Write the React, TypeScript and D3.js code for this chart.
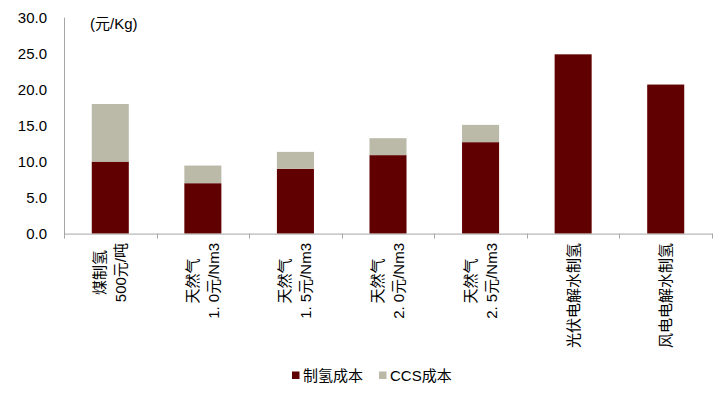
import React, { useEffect, useRef } from "react";
import * as d3 from "d3";

const categories: string[][] = [
  ["煤制氢", "500元/吨"],
  ["天然气", "1. 0元/Nm3"],
  ["天然气", "1. 5元/Nm3"],
  ["天然气", "2. 0元/Nm3"],
  ["天然气", "2. 5元/Nm3"],
  ["光伏电解水制氢"],
  ["风电电解水制氢"],
];
const h2Cost: number[] = [10.0, 7.0, 9.0, 10.9, 12.7, 24.9, 20.7];
const ccsCost: number[] = [8.0, 2.45, 2.35, 2.35, 2.4, 0, 0];
const yTicks: number[] = [0, 5, 10, 15, 20, 25, 30];
const seriesNames: string[] = ["制氢成本", "CCS成本"];
const unitLabel = "(元/Kg)";

const W = 725;
const H = 397;
const COLORS = ["#600000", "#BBBAA8"];
const FONT = "'Liberation Sans', Arial, 'Noto Sans CJK SC', sans-serif";

export default function App() {
  const ref = useRef<SVGSVGElement | null>(null);

  useEffect(() => {
    const svg = d3.select(ref.current);
    svg.selectAll("*").remove();

    const x = d3
      .scaleBand<number>()
      .domain(d3.range(categories.length))
      .range([64, 712])
      .paddingInner(0.6)
      .paddingOuter(0.3);
    const y = d3.scaleLinear().domain([0, 30]).range([233.6, 17.6]);

    const g = svg.append("g");

    const bw = x.bandwidth();
    h2Cost.forEach((v, i) => {
      g.append("rect")
        .attr("x", x(i)!)
        .attr("y", y(v))
        .attr("width", bw)
        .attr("height", y(0) - y(v))
        .attr("fill", COLORS[0]);
      if (ccsCost[i] > 0) {
        g.append("rect")
          .attr("x", x(i)!)
          .attr("y", y(v + ccsCost[i]))
          .attr("width", bw)
          .attr("height", y(v) - y(v + ccsCost[i]))
          .attr("fill", COLORS[1]);
      }
    });

    const axisColor = "#A6A6A6";
    g.append("line")
      .attr("x1", 64.5)
      .attr("x2", 64.5)
      .attr("y1", y(30))
      .attr("y2", y(0) + 4)
      .attr("stroke", axisColor);
    g.append("line")
      .attr("x1", 64)
      .attr("x2", 712.5)
      .attr("y1", y(0) + 0.5)
      .attr("y2", y(0) + 0.5)
      .attr("stroke", axisColor);
    const step = x.step();
    d3.range(categories.length + 1).forEach((k) => {
      const tx = Math.round(64 + k * step) + 0.5;
      g.append("line")
        .attr("x1", tx)
        .attr("x2", tx)
        .attr("y1", y(0))
        .attr("y2", y(0) + 5)
        .attr("stroke", axisColor);
    });

    yTicks.forEach((t) => {
      g.append("text")
        .attr("x", 47)
        .attr("y", y(t))
        .attr("dy", "0.35em")
        .attr("text-anchor", "end")
        .attr("font-family", FONT)
        .attr("font-size", 15)
        .attr("fill", "#000")
        .text(d3.format(".1f")(t));
    });

    g.append("text")
      .attr("x", 90)
      .attr("y", 29)
      .attr("font-family", FONT)
      .attr("font-size", 15)
      .attr("fill", "#000")
      .text(unitLabel);

    const yTop = 243;
    categories.forEach((lines, i) => {
      const cx = x(i)! + bw / 2;
      const lg = g.append("g").attr("transform", `translate(${cx},${yTop}) rotate(-90)`);
      const texts = lines.map((ln, j) =>
        lg
          .append("text")
          .attr("y", (j - (lines.length - 1) / 2) * 21)
          .attr("dominant-baseline", "central")
          .attr("text-anchor", "middle")
          .attr("font-family", FONT)
          .attr("font-size", 15)
          .attr("fill", "#000")
          .text(ln)
      );
      const maxLen = d3.max(texts, (t) => (t.node() as SVGTextElement).getComputedTextLength()) || 0;
      texts.forEach((t) => t.attr("x", -maxLen / 2));
    });

    const legendItems = [
      { name: seriesNames[0], color: COLORS[0], sx: 292 },
      { name: seriesNames[1], color: COLORS[1], sx: 379 },
    ];
    legendItems.forEach((it) => {
      g.append("rect")
        .attr("x", it.sx)
        .attr("y", 371.5)
        .attr("width", 7.5)
        .attr("height", 7.5)
        .attr("fill", it.color);
      g.append("text")
        .attr("x", it.sx + 11)
        .attr("y", 375.5)
        .attr("dominant-baseline", "central")
        .attr("font-family", FONT)
        .attr("font-size", 15)
        .attr("fill", "#000")
        .text(it.name);
    });
  }, []);

  return (
    <svg
      ref={ref}
      width={W}
      height={H}
      style={{ position: "absolute", left: 0, top: 0, background: "#fff" }}
    />
  );
}
